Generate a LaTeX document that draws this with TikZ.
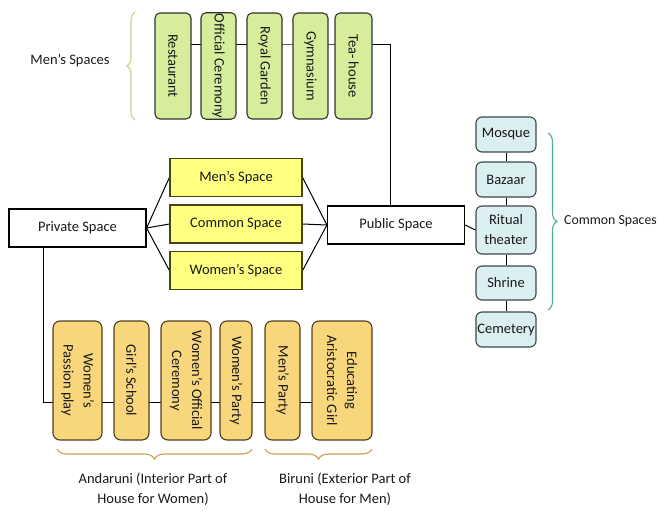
\documentclass[tikz,border=0pt]{standalone}
\usepackage{fontspec}
\setmainfont{Carlito}
\usepackage{xcolor}
\usepackage{tikz}
\usetikzlibrary{calc,positioning,backgrounds,decorations.pathreplacing}
\definecolor{boxline}{RGB}{50,50,50}
\definecolor{textdark}{RGB}{25,25,25}
\definecolor{menfill}{RGB}{214,238,156}
\definecolor{menbrace}{RGB}{190,214,140}
\definecolor{midfill}{RGB}{255,255,128}
\definecolor{midline}{RGB}{70,70,20}
\definecolor{comfill}{RGB}{219,238,240}
\definecolor{comline}{RGB}{60,70,75}
\definecolor{combrace}{RGB}{80,170,150}
\definecolor{housefill}{RGB}{248,214,124}
\definecolor{houseline}{RGB}{80,60,30}
\definecolor{housebrace}{RGB}{200,160,80}

\begin{document}
\begin{tikzpicture}[x=1pt, y=-1pt,
    every node/.style={font=\fontsize{14.5}{20}\selectfont, text=textdark},
    link/.style={draw=black, line width=1pt},
    plainbox/.style={draw=black, line width=1.2pt, fill=white,
      minimum width=137pt, minimum height=38pt},
    midbox/.style={draw=midline, line width=1.2pt, fill=midfill,
      minimum width=132pt, minimum height=38pt},
    menbox/.style={draw=boxline, line width=1.1pt, fill=menfill,
      rounded corners=5pt, rotate=-90, minimum width=106pt,
      inner sep=1pt, align=center},
    housebox/.style={draw=houseline, line width=1.1pt, fill=housefill,
      rounded corners=7pt, rotate=-90, minimum width=119pt,
      inner sep=1pt, align=center},
    combox/.style={draw=comline, line width=1.1pt, fill=comfill,
      rounded corners=6pt, minimum width=60pt, inner sep=1pt,
      align=center},
    curly/.style={decorate, line width=1.1pt,
      decoration={brace, amplitude=#1}}]
\useasboundingbox (0,0) rectangle (666,516);
% Pixel coordinates of the 666x516 sheet, y running down.
% Top row: men's spaces, rotated green tiles
\node[menbox, minimum height=36pt] (rest) at (173,66) {Restaurant};
\node[menbox, minimum height=35pt] (offc) at (218.5,66) {Official Ceremony};
\node[menbox, minimum height=35pt] (royl) at (264.5,66) {Royal Garden};
\node[menbox, minimum height=35pt] (gymn) at (310.5,66) {Gymnasium};
\node[menbox, minimum height=37pt] (teah) at (353.5,66) {Tea- house};
% Middle: private / public and the three kinds of space between
\node[plainbox] (priv) at (77.5,228) {Private Space};
\node[plainbox] (pub) at (396,225) {Public Space};
\node[midbox] (mens) at (236,177.5) {Men's Space};
\node[midbox] (comm) at (236,224) {Common Space};
\node[midbox] (wom) at (236,270.5) {Women's Space};
% Right column: common spaces
\node[combox, minimum height=35pt] (mosq) at (506,134.5) {Mosque};
\node[combox, minimum height=35pt] (baz) at (506,179.5) {Bazaar};
\node[combox, minimum height=48pt] (rit) at (506,230) {Ritual\\theater};
\node[combox, minimum height=34pt] (shr) at (506,283) {Shrine};
\node[combox, minimum height=35pt] (cem) at (506,329.5) {Cemetery};
% Bottom row: house spaces, rotated orange tiles
\node[housebox, minimum height=49pt] (pass) at (77.5,380.5) {Women's\\Passion play};
\node[housebox, minimum height=35pt] (girl) at (131.5,380.5) {Girl's School};
\node[housebox, minimum height=50pt] (wofc) at (186,380.5) {Women's Official\\Ceremony};
\node[housebox, minimum height=32pt] (wpty) at (236,380.5) {Women's Party};
\node[housebox, minimum height=35pt] (mpty) at (282.5,380.5) {Men's Party};
\node[housebox, minimum height=60pt] (edu) at (342,380.5) {Educating\\Aristocratic Girl};
% Connectors, kept behind the tiles
\begin{scope}[on background layer]
  \draw[link] ([yshift=21pt]rest.center) -- ([yshift=21pt]teah.center)
    -| ([xshift=-6pt]pub.north);
  \foreach \n in {mens,comm,wom} {
    \draw[link] (priv.east) -- (\n.west);
    \draw[link] (\n.east) -- (pub.west);
  }
  \draw[link] (pub.east) -- (rit.west);
  \draw[link] (mosq) -- (baz) -- (rit) -- (shr) -- (cem);
  \draw[link] ([xshift=-34.5pt]priv.south) |- ([yshift=-21.5pt]edu.center);
\end{scope}
% Braces and their labels
\draw[curly=8pt, menbrace] (135,120) -- (135,12);
\node (menlbl) at (70,61) {Men's Spaces};
\draw[curly=9pt, combrace] (548,133) -- (548,310);
\node[anchor=west, inner sep=0pt, font=\fontsize{13.8}{18}\selectfont]
  (comlbl) at (564,221) {Common Spaces};
\draw[curly=10pt, housebrace] (252,449) -- (57,449);
\draw[curly=10pt, housebrace] (372,449) -- (265,449);
\node[align=center] (andlbl) at (153,489) {Andaruni (Interior Part of\\House for Women)};
\node[align=center] (birlbl) at (345,489) {Biruni (Exterior Part of\\House for Men)};
\end{tikzpicture}
\end{document}
